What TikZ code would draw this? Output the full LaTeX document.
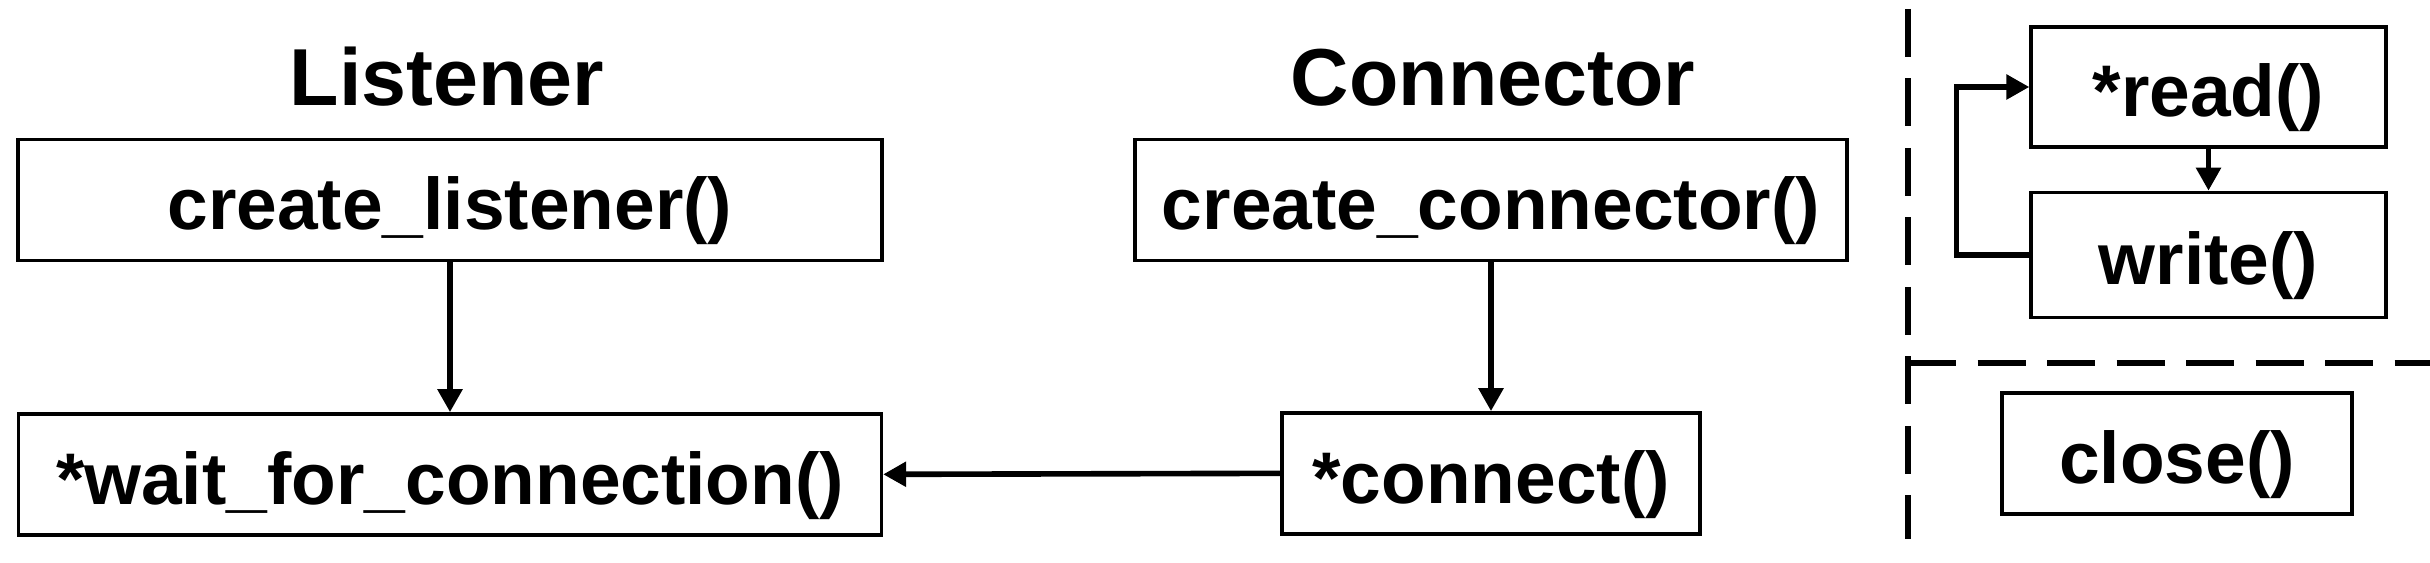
\documentclass[tikz,border=0pt]{standalone}
\usepackage{fontspec}
\setmainfont{Liberation Sans}
\usetikzlibrary{arrows.meta, positioning}

\begin{document}
\begin{tikzpicture}[
    node distance=1.5cm,
    method/.style={rectangle, draw, line width=0.95pt, inner sep=0pt, minimum height=1.21cm,
        text height=0.65cm, text depth=0.05cm, font=\fontsize{20.8}{24}\selectfont\bfseries},
    heading/.style={anchor=base, font=\fontsize{23}{27}\selectfont\bfseries},
    flow/.style={-{Triangle[length=0.23cm, width=0.24cm]}, line width=1.6pt},
    divider/.style={line width=1.6pt, dash pattern=on 0.48cm off 0.215cm}
]
\useasboundingbox (0,0) rectangle (24.3,5.63);

% Listener side
\node[heading] (listenerTitle) at (4.47,4.57) {Listener};
\node[method, minimum width=8.64cm] (createListener) at (4.50,3.63) {create\_listener()};
\node[method, minimum width=8.63cm, below=of createListener] (waitConn) {*wait\_for\_connection()};

% Connector side
\node[heading] (connectorTitle) at (14.93,4.57) {Connector};
\node[method, minimum width=7.12cm] (createConnector) at (14.91,3.63) {create\_connector()};
\node[method, minimum width=4.18cm, below=1.49cm of createConnector] (connect) {*connect()};

% Stream side
\node[method, minimum width=3.55cm, minimum height=1.20cm] (read) at (22.085,4.76) {*read()};
\node[method, minimum width=3.55cm, minimum height=1.25cm, below=0.42cm of read] (write) {write()};
\node[method, minimum width=3.50cm] (close) at (21.77,1.095) {close()};

% Dividers
\coordinate (divTop) at (19.08,5.54);
\coordinate (divBottom) at (19.08,0.24);
\coordinate (divRight) at (24.3,2.00);
\draw[divider] (divTop) -- (divBottom);
\draw[divider] (divTop |- divRight) -- (divRight);

% Edges
\draw[flow] (createListener.south) -- (createListener.south |- waitConn.north);
\draw[flow] (createConnector.south) -- (createConnector.south |- connect.north);
\draw[flow] (connect.west) -- (waitConn.east);
\draw[flow] (read.south) -- (write.north);
\draw[flow] (write.west) -- ++(-0.73,0) |- (read.west);

\end{tikzpicture}
\end{document}
